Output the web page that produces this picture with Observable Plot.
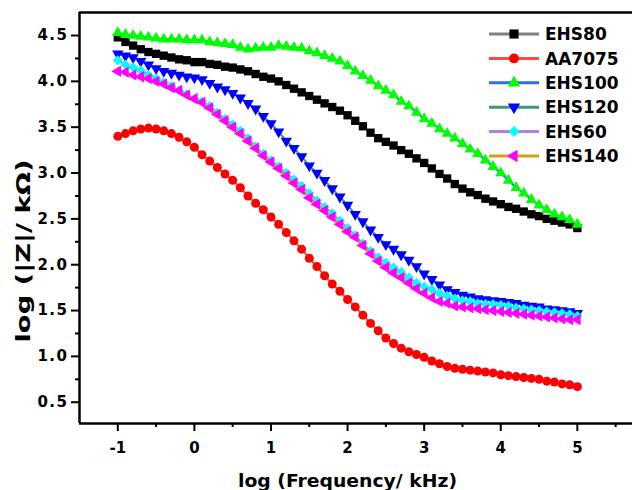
<!DOCTYPE html>
<html><head><meta charset="utf-8">
<script src="https://cdn.jsdelivr.net/npm/d3@7"></script>
<script src="https://cdn.jsdelivr.net/npm/@observablehq/plot@0.6"></script>
<style>
html,body{margin:0;padding:0;background:#fff;}
#chart svg{display:block;}
</style></head><body><div id="chart"></div>
<script>
// ---- data (log frequency / kHz and log |Z|) ----
const freq = [-1.0,-0.9,-0.8,-0.7,-0.6,-0.5,-0.4,-0.3,-0.2,-0.1,0.0,
  0.1,0.2,0.3,0.4,0.5,0.6,0.7,0.8,0.9,1.0,
  1.1,1.2,1.3,1.4,1.5,1.6,1.7,1.8,1.9,2.0,
  2.1,2.2,2.3,2.4,2.5,2.6,2.7,2.8,2.9,3.0,
  3.1,3.2,3.3,3.4,3.5,3.6,3.7,3.8,3.9,4.0,
  4.1,4.2,4.3,4.4,4.5,4.6,4.7,4.8,4.9,5.0];

const EHS80 = [4.48,4.43,4.39,4.35,4.32,4.30,4.28,4.26,4.24,4.23,4.21,
  4.21,4.19,4.18,4.16,4.15,4.13,4.11,4.08,4.05,4.03,
  4.00,3.96,3.92,3.88,3.84,3.80,3.76,3.72,3.68,3.63,
  3.57,3.51,3.44,3.38,3.34,3.30,3.25,3.21,3.16,3.11,
  3.05,2.99,2.94,2.88,2.83,2.79,2.76,2.72,2.69,2.66,
  2.63,2.61,2.58,2.55,2.53,2.50,2.48,2.46,2.44,2.40];

const AA7075 = [3.40,3.43,3.46,3.48,3.49,3.48,3.46,3.43,3.39,3.34,3.28,
  3.20,3.13,3.06,2.99,2.92,2.84,2.75,2.67,2.60,2.52,
  2.44,2.35,2.26,2.17,2.07,1.98,1.88,1.79,1.71,1.62,
  1.54,1.45,1.36,1.28,1.20,1.14,1.09,1.05,1.02,0.99,
  0.95,0.92,0.89,0.87,0.86,0.85,0.84,0.83,0.82,0.80,
  0.79,0.78,0.77,0.76,0.75,0.73,0.72,0.70,0.69,0.67];

const EHS100 = [4.53,4.51,4.50,4.49,4.48,4.47,4.46,4.46,4.46,4.45,4.45,
  4.45,4.43,4.42,4.41,4.40,4.37,4.35,4.36,4.37,4.37,
  4.39,4.38,4.37,4.36,4.33,4.31,4.28,4.25,4.22,4.17,
  4.11,4.06,4.01,3.95,3.90,3.85,3.78,3.73,3.66,3.59,
  3.54,3.48,3.43,3.38,3.32,3.26,3.21,3.14,3.07,3.00,
  2.92,2.84,2.78,2.71,2.65,2.60,2.55,2.52,2.49,2.44];

const EHS120 = [4.30,4.28,4.26,4.22,4.18,4.14,4.11,4.09,4.07,4.05,4.04,
  4.02,3.98,3.94,3.91,3.87,3.82,3.76,3.70,3.62,3.54,
  3.45,3.35,3.27,3.18,3.08,3.00,2.92,2.83,2.74,2.65,
  2.55,2.47,2.38,2.30,2.22,2.17,2.11,2.05,1.98,1.90,
  1.84,1.78,1.73,1.70,1.67,1.65,1.63,1.62,1.61,1.60,
  1.59,1.58,1.56,1.55,1.54,1.52,1.51,1.50,1.49,1.47];

const EHS60 = [4.23,4.18,4.15,4.12,4.07,4.03,3.99,3.95,3.90,3.86,3.81,
  3.78,3.73,3.66,3.59,3.53,3.46,3.38,3.29,3.21,3.14,
  3.07,3.00,2.93,2.86,2.78,2.70,2.63,2.56,2.48,2.40,
  2.32,2.23,2.15,2.08,2.02,1.97,1.92,1.86,1.80,1.76,
  1.73,1.69,1.66,1.63,1.61,1.60,1.58,1.57,1.57,1.56,
  1.55,1.53,1.52,1.51,1.50,1.49,1.48,1.47,1.46,1.44];

const EHS140 = [4.11,4.10,4.07,4.05,4.03,4.00,3.97,3.93,3.90,3.85,3.81,
  3.77,3.71,3.64,3.57,3.50,3.43,3.35,3.27,3.19,3.12,
  3.05,2.97,2.89,2.82,2.73,2.66,2.59,2.52,2.44,2.36,
  2.30,2.21,2.12,2.04,1.97,1.91,1.86,1.80,1.74,1.69,
  1.64,1.60,1.58,1.55,1.54,1.53,1.52,1.51,1.50,1.49,
  1.48,1.47,1.46,1.45,1.44,1.43,1.42,1.41,1.40,1.40];

const seriesNames = ["EHS80","AA7075","EHS100","EHS120","EHS60","EHS140"];
const seriesValues = [EHS80, AA7075, EHS100, EHS120, EHS60, EHS140];
const xTicks = [-1,0,1,2,3,4,5];
const xMinorTicks = [-0.5,0.5,1.5,2.5,3.5,4.5,5.5];
const yTicks = [0.5,1.0,1.5,2.0,2.5,3.0,3.5,4.0,4.5];
const yMinorTicks = [0.75,1.25,1.75,2.25,2.75,3.25,3.75,4.25];
const xLabel = "log (Frequency/ kHz)";
const yLabel = "log (|Z|/ kΩ)";

// ---- styles ----
const S3 = Math.sqrt(3);
const triUp = {draw(c, size){const a=Math.sqrt(4*size/S3),h=a*S3/2;c.moveTo(0,-2*h/3);c.lineTo(a/2,h/3);c.lineTo(-a/2,h/3);c.closePath();}};
const triDown = {draw(c, size){const a=Math.sqrt(4*size/S3),h=a*S3/2;c.moveTo(0,2*h/3);c.lineTo(a/2,-h/3);c.lineTo(-a/2,-h/3);c.closePath();}};
const triLeft = {draw(c, size){const a=Math.sqrt(4*size/S3),h=a*S3/2;c.moveTo(-2*h/3,0);c.lineTo(h/3,-a/2);c.lineTo(h/3,a/2);c.closePath();}};
const diamond = {draw(c, size){const d=Math.sqrt(size/2);c.moveTo(0,-d);c.lineTo(d,0);c.lineTo(0,d);c.lineTo(-d,0);c.closePath();}};
const square = {draw(c, size){const s=Math.sqrt(size)/2;c.rect(-s,-s,2*s,2*s);}};
const circle = {draw(c, size){const r=Math.sqrt(size/Math.PI);c.moveTo(r,0);c.arc(0,0,r,0,2*Math.PI);}};

const style = {
  EHS80:  {line:"#808080", fill:"#000000", sym:square,  r:4.7},
  AA7075: {line:"#ff4848", fill:"#ff0000", sym:circle,  r:4.5},
  EHS100: {line:"#2b70e8", fill:"#00ff00", sym:triUp,   r:4.2},
  EHS120: {line:"#3b9b6c", fill:"#0000ff", sym:triDown, r:4.2},
  EHS60:  {line:"#b07fe0", fill:"#00ffff", sym:diamond, r:4.0},
  EHS140: {line:"#d4a017", fill:"#ff00ff", sym:triLeft, r:4.2}
};

const rows = seriesNames.flatMap((name,i) => freq.map((f,j) => ({series:name, x:f, y:seriesValues[i][j]})));

const W = 632, H = 490;
const xDomain = [-1.5, 5.72], yDomain = [0.268, 4.751];

const marks = [];
for (const name of seriesNames) {
  const d = rows.filter(r => r.series === name), s = style[name];
  marks.push(Plot.line(d, {x:"x", y:"y", stroke:s.line, strokeWidth:2}));
  marks.push(Plot.dot(d, {x:"x", y:"y", symbol:s.sym, r:s.r, fill:s.fill, stroke:"none"}));
}
marks.push(
  Plot.ruleX([xDomain[0]], {stroke:"#000", strokeWidth:2.5}),
  Plot.ruleY([yDomain[0]], {stroke:"#000", strokeWidth:2.5}),
  Plot.ruleY([yDomain[1]], {stroke:"#000", strokeWidth:2.5}),
  Plot.axisX(xTicks, {anchor:"bottom", tickSize:8, tickPadding:11, strokeWidth:2, tickFormat:d => String(d), fontSize:15, fontWeight:"bold", label:null}),
  Plot.axisX(xMinorTicks, {anchor:"bottom", tickSize:4, strokeWidth:2, tickFormat:() => "", label:null}),
  Plot.axisY(yTicks, {anchor:"left", tickSize:8, tickPadding:3, strokeWidth:2, tickFormat:d => d.toFixed(1), fontSize:15, fontWeight:"bold", label:null}),
  Plot.axisY(yMinorTicks, {anchor:"left", tickSize:4, strokeWidth:2, tickFormat:() => "", label:null})
);

const svg = Plot.plot({
  width: W, height: H,
  marginLeft: 79, marginRight: 0, marginTop: 12, marginBottom: 67,
  x: {domain: xDomain, label: null},
  y: {domain: yDomain, label: null},
  style: {fontFamily: "DejaVu Sans", color: "#000", background: "#fff", overflow: "visible"},
  marks
});
document.getElementById("chart").appendChild(svg);

const sel = d3.select(svg);
// wider y tick labels, as in the reference
sel.selectAll('g[aria-label="y-axis tick label"] text').attr("letter-spacing", "1.5px");

// ---- axis titles ----
sel.append("text")
  .attr("x", 347.5).attr("y", 486.5)
  .attr("text-anchor", "middle")
  .attr("font-family", "DejaVu Sans").attr("font-weight", "bold").attr("font-size", 18)
  .attr("textLength", 219).attr("lengthAdjust", "spacingAndGlyphs")
  .attr("fill", "#000").text(xLabel);
sel.append("text")
  .attr("transform", "translate(29.5,251) rotate(-90)")
  .attr("text-anchor", "middle")
  .attr("font-family", "DejaVu Sans").attr("font-weight", "bold").attr("font-size", 19)
  .attr("textLength", 183).attr("lengthAdjust", "spacingAndGlyphs")
  .attr("fill", "#000").text(yLabel);

// ---- legend ----
const lg = sel.append("g");
seriesNames.forEach((name, i) => {
  const s = style[name], cy = 34 + i * 24.4;
  const g = lg.append("g").attr("transform", `translate(0,${cy})`);
  g.append("line").attr("x1", 489).attr("x2", 539).attr("y1", 0).attr("y2", 0)
    .attr("stroke", s.line).attr("stroke-width", 3);
  g.append("path").attr("transform", "translate(514,0)")
    .attr("d", d3.symbol().type(s.sym).size(s.r * s.r * Math.PI * 1.2)())
    .attr("fill", s.fill);
  g.append("text").attr("x", 545).attr("y", 6.2)
    .attr("text-anchor", "start")
    .attr("font-family", "DejaVu Sans").attr("font-weight", "bold").attr("font-size", 17)
    .attr("fill", "#000").text(name);
});
</script></body></html>
